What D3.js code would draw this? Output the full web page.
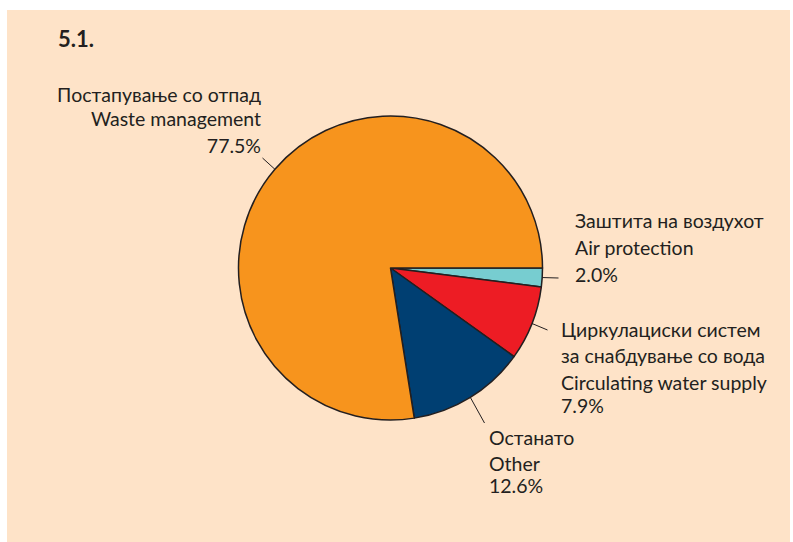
<!DOCTYPE html>
<html><head><meta charset="utf-8">
<script src="https://cdn.jsdelivr.net/npm/d3@7"></script>
<style>html,body{margin:0;padding:0;background:#fff;}svg{display:block;}</style>
</head><body>
<svg id="c" width="793" height="542"></svg>
<script>
const categories = ["Air protection", "Circulating water supply", "Other", "Waste management"];
const labelsMk = [["Заштита на воздухот"], ["Циркулациски систем", "за снабдување со вода"], ["Останато"], ["Постапување со отпад"]];
const labelsEn = ["Air protection", "Circulating water supply", "Other", "Waste management"];
const values = [2.0, 7.9, 12.6, 77.5];
const colors = ["#77cdd0", "#ed1c24", "#003f72", "#f7941d"];

const svg = d3.select("#c");
const font = "Lato, 'Open Sans', sans-serif";
svg.append("rect").attr("x", 7).attr("y", 10).attr("width", 783).attr("height", 532).attr("fill", "#fee3c8");
svg.append("text").attr("x", 58).attr("y", 47).attr("font-family", font).attr("font-weight", "bold")
  .attr("font-size", 22).attr("fill", "#231f20").text("5.1.");

const cx = 390.5, cy = 268, R = 152;
const pie = d3.pie().sort(null).value(d => d).startAngle(Math.PI / 2).endAngle(Math.PI / 2 + 2 * Math.PI);
const arcs = pie(values);
const arc = d3.arc().innerRadius(0).outerRadius(R);
const g = svg.append("g").attr("transform", `translate(${cx},${cy})`);
g.selectAll("path").data(arcs).join("path").attr("d", arc)
  .attr("fill", (d, i) => colors[i]).attr("stroke", "#231f20").attr("stroke-width", 1.5).attr("stroke-linejoin", "round");

// label layout: leader end point (relative to centre) and text block anchor
const layout = [
  {end: [168, 10], x: 575, y: 228, anchor: "start", dy: [27, 27]},
  {end: [157, 62], x: 561, y: 337, anchor: "start", dy: [26, 27, 23]},
  {end: [94, 155], x: 489, y: 445, anchor: "start", dy: [26, 22]},
  {end: [-128, -110], x: 261, y: 102, anchor: "end", dy: [24, 27]}
];
arcs.forEach((a, i) => {
  const ang = (a.startAngle + a.endAngle) / 2;
  const px = R * Math.sin(ang), py = -R * Math.cos(ang);
  const L = layout[i];
  g.append("line").attr("x1", px).attr("y1", py).attr("x2", L.end[0]).attr("y2", L.end[1])
    .attr("stroke", "#231f20").attr("stroke-width", 1);
  const lines = [...labelsMk[i], labelsEn[i], d3.format(".1f")(values[i]) + "%"];
  let y = L.y;
  lines.forEach((t, k) => {
    if (k > 0) y += L.dy[k - 1];
    svg.append("text").attr("x", L.x).attr("y", y).attr("text-anchor", L.anchor)
      .attr("font-family", font).attr("font-size", 19.5).attr("fill", "#231f20").text(t);
  });
});
</script>
</body></html>
